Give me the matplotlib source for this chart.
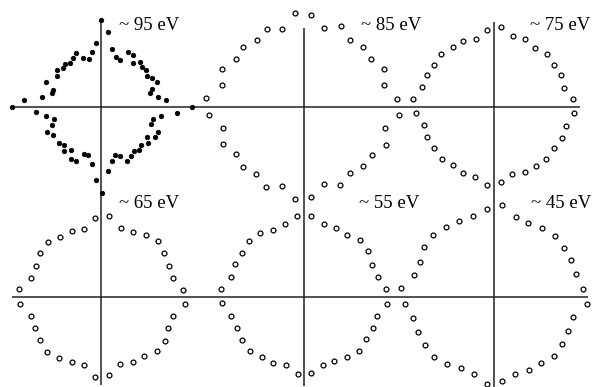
import matplotlib
matplotlib.use("Agg")
import matplotlib.pyplot as plt
import numpy as np

# ---------------- data ----------------
# energies of the six angular patterns
energies = ["~ 95 eV", "~ 85 eV", "~ 75 eV", "~ 65 eV", "~ 55 eV", "~ 45 eV"]

# polar angles (deg) of the open-circle measurements
angles_10 = [5, 15, 25, 35, 45, 55, 65, 75, 85, 95, 105, 115, 125, 135, 145, 155, 165, 175,
             185, 195, 205, 215, 225, 235, 245, 255, 265, 275, 285, 295, 305, 315, 325, 335, 345, 355]

# ~95 eV (filled dots): measured angle and intensity
angles_95 = [0, 6.4, 10.2, 16.3, 19.7, 24.3, 29.9, 34.2, 39.7, 44.5, 49.3, 54.2, 58.5, 64.0, 68.1, 73.4, 79.3, 84.7,
             90, 94.4, 99.2, 103.9, 110.1, 114.7, 119.6, 125.0, 129.7, 134.0, 139.7, 144.6, 155.3, 160.2, 163.7, 170.1, 174.6,
             180, 184.1, 189.0, 194.0, 199.9, 204.6, 210.0, 220.4, 225.5, 229.7, 234.9, 239.9, 245.0, 250.0, 254.8, 261.0, 266.1,
             270.7, 276.3, 281.6, 286.4, 291.3, 295.8, 301.6, 307.1, 311.7, 316.7, 322.8, 327.2, 331.2, 336.6, 341.5, 347.3, 351.7, 355.7]
r_95 = [91, 65.4, 57.9, 51.0, 54.2, 61.4, 58.8, 55.6, 58.4, 57.5, 59.8, 54.6, 61.3, 61.5, 51.0, 52.5, 59.3, 75.6,
        87, 64.5, 56.0, 49.8, 52.5, 59.8, 56.7, 54.1, 56.3, 54.7, 57.7, 54.0, 60.5, 51.0, 51.0, 59.9, 77.3,
        89, 65.2, 55.7, 48.4, 52.1, 59.4, 55.4, 55.1, 52.8, 57.3, 52.2, 59.8, 59.2, 49.7, 49.4, 57.4, 72.9,
        85.7, 64.1, 54.8, 49.7, 52.3, 59.7, 57.2, 54.8, 57.2, 55.0, 59.0, 54.8, 61.6, 62.1, 52.7, 53.3, 60.6, 76.2]

r_85 = [94.0, 83.6, 89.1, 83.1, 85.1, 82.0, 88.6, 81.6, 92.0, 94.1, 80.6, 86.2, 81.0, 84.9, 82.7, 89.6, 84.1, 97.6,
        94.7, 82.8, 88.1, 82.5, 84.6, 82.0, 88.1, 82.1, 92.7, 90.6, 80.3, 86.0, 80.9, 84.2, 83.7, 90.7, 84.2, 96.1]
r_75 = [79.3, 72.4, 73.5, 72.8, 74.5, 71.3, 74.5, 72.8, 79.5, 76.6, 69.9, 72.3, 71.9, 74.5, 72.8, 74.4, 74.5, 81.3,
        78.3, 72.5, 73.7, 73.1, 74.0, 72.2, 74.0, 73.2, 79.0, 75.9, 70.3, 72.6, 72.8, 74.0, 73.1, 75.0, 74.4, 80.3]
r_65 = [81.1, 73.1, 73.8, 75.6, 78.1, 75.6, 71.6, 71.2, 81.0, 79.0, 70.4, 72.8, 72.9, 77.1, 75.8, 73.6, 73.5, 83.5,
        82.7, 73.6, 74.2, 75.9, 78.2, 75.1, 72.4, 70.7, 80.5, 78.6, 70.1, 71.7, 72.9, 77.1, 76.5, 72.9, 72.8, 82.9]
r_55 = [82.1, 76.4, 75.0, 78.2, 79.2, 75.3, 75.7, 74.7, 80.6, 80.5, 74.8, 73.7, 77.8, 78.2, 75.9, 76.9, 76.1, 83.6,
        82.5, 76.4, 74.5, 76.4, 77.1, 74.1, 73.7, 71.4, 78.0, 77.0, 71.5, 71.2, 74.6, 76.7, 74.8, 75.8, 75.6, 82.8]
r_45 = [89.1, 84.7, 84.9, 84.8, 85.6, 83.3, 80.7, 82.2, 91.6, 87.7, 83.3, 83.6, 84.2, 86.0, 85.3, 81.8, 83.1, 93.7,
        89.6, 84.6, 84.3, 84.4, 85.6, 82.9, 79.5, 80.2, 88.1, 84.9, 80.7, 81.0, 82.0, 84.4, 82.5, 81.1, 81.1, 92.9]

# ---------------- layout (figure pixel frame, y up) ----------------
W, H = 595, 387
centers = [(101.0, 279.7), (303.3, 280.3), (494.0, 280.7),
           (102.3, 90.3), (304.3, 90.7), (494.3, 90.7)]
label_pos = [(119, 357), (361, 357), (530, 357), (119, 179), (359, 179), (531, 179)]

fig = plt.figure(figsize=(W / 100, H / 100), dpi=100)
ax = fig.add_axes([0, 0, 1, 1])
ax.set_xlim(0, W)
ax.set_ylim(0, H)
ax.axis("off")

line_kw = dict(color="#222222", lw=1.1, solid_capstyle="butt", zorder=1)
# horizontal reference lines (one per row)
ax.plot([12, 580], [280, 280], **line_kw)
ax.plot([12, 588], [90, 90], **line_kw)
# vertical reference lines (one per column)
ax.plot([101.3, 101.3], [367, 2], **line_kw)
ax.plot([303.6, 303.6], [359, 1], **line_kw)
ax.plot([494.2, 494.2], [365, 0], **line_kw)

def polar_xy(center, ang, rad):
    a = np.deg2rad(np.asarray(ang, dtype=float))
    r = np.asarray(rad, dtype=float)
    return center[0] + r * np.cos(a), center[1] + r * np.sin(a)

# filled dots (~95 eV)
x, y = polar_xy(centers[0], angles_95, r_95)
ax.plot(x, y, 'o', ms=3.3, mfc='black', mec='black', mew=0.5, ls='none', zorder=3)

# open circles
for c, r in zip(centers[1:], [r_85, r_75, r_65, r_55, r_45]):
    x, y = polar_xy(c, angles_10, r)
    ax.plot(x, y, 'o', ms=3.5, mfc='white', mec='black', mew=0.9, ls='none', zorder=3)

for (tx, ty), lab in zip(label_pos, energies):
    ax.text(tx, ty, lab, fontsize=13.5, family=['Liberation Serif', 'DejaVu Serif'],
            ha='left', va='baseline', color='black', zorder=4)

fig.savefig("out.png", dpi=100, facecolor="white")
